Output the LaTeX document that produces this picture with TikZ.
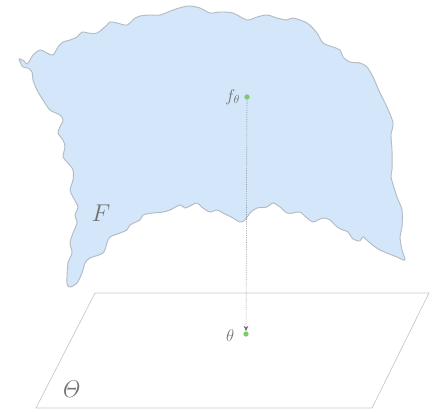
\documentclass[tikz,border=0pt]{standalone}
\usetikzlibrary{arrows.meta}
\definecolor{ink}{HTML}{727272}
\definecolor{edge}{HTML}{B3BBC4}
\definecolor{sheet}{HTML}{D3E6FA}
\definecolor{plane}{HTML}{C9C9C9}
\definecolor{dotg}{HTML}{7DCB6F}
\def\W{434}
\def\H{412}
\tikzset{
  px/.style={x=0.03cm,y=-0.03cm},
  pt/.style={circle,fill=dotg,inner sep=0pt,minimum size=4.5pt},
  lab/.style={ink,font=\Large},
  proj/.style={ink,densely dotted,line width=0.5pt,-{Stealth[length=1.6mm,width=1.4mm]}},
}

\begin{document}
\begin{tikzpicture}[px]
\useasboundingbox (0,0) rectangle (\W,\H);

% ---------------------------------------------------------------- manifold F
\filldraw[fill=sheet,draw=edge,line width=0.8pt] plot[smooth cycle,tension=0.5] coordinates {
  (19,59) (24,61) (27,64) (30,60) (33,55) (40,50) (47,53) (53,55) (58,47)
  (63,42) (70,40) (77,37) (82,32) (88,33) (97,33) (107,25) (110,22) (117,23)
  (127,25) (135,18) (140,16) (150,15) (160,15) (173,10) (183,7) (190,6)
  (200,8) (210,13) (220,12) (233,13) (247,20) (257,17) (267,15) (277,18)
  (287,20) (293,18) (307,23) (317,33) (323,43) (333,47) (340,50) (343,57)
  (350,62) (360,63) (367,67) (373,77) (380,93) (387,107) (393,123) (391,135)
  (392,150) (392,170) (391,177) (397,197) (402,210) (402,227) (400,237)
  (402,250) (405,260) (397,257) (380,250) (370,243) (363,237) (360,241)
  (353,239) (348,232) (343,230) (337,227) (330,220) (323,218) (313,222)
  (307,218) (300,212) (293,213) (287,213) (280,207) (273,203) (267,207)
  (257,208) (250,213) (245,220) (240,222) (233,218) (223,213) (217,210)
  (210,212) (203,208) (197,203) (192,205) (185,208) (180,205) (170,210)
  (163,212) (153,213) (143,215) (140,220) (130,225) (127,230) (120,233)
  (110,237) (107,243) (103,253) (90,258) (85,263) (82,273) (77,283) (70,287)
  (67,283) (68,263) (72,253) (70,243) (73,233) (77,223) (75,215) (78,207)
  (73,197) (70,190) (73,180) (73,170) (68,163) (63,157) (65,147) (63,140)
  (58,133) (60,127) (63,120) (60,115) (50,110) (43,100) (37,90) (33,80)
  (32,72) (28,68) (23,67)};
\node[lab,font=\huge] (F) at (101,213) {$F$};

% ---------------------------------------------------------------- parameter plane
\draw[plane,line width=0.6pt] (95,293) -- (429,293) -- (372,408) -- (36,408) -- cycle;
\node[lab,font=\huge] (Th) at (71,389) {$\mathit{\Theta}$};

% ---------------------------------------------------------------- points
\node[pt] (f) at (247,97) {};
\node[lab,anchor=east] (fl) at (f.west) {$f_\theta$};
\node[pt] (th) at (246,334) {};
\node[lab,anchor=east] (thl) at ([xshift=-4pt,yshift=-1pt]th.west) {$\theta$};
\draw[proj] (f) -- (th);

\end{tikzpicture}
\end{document}
